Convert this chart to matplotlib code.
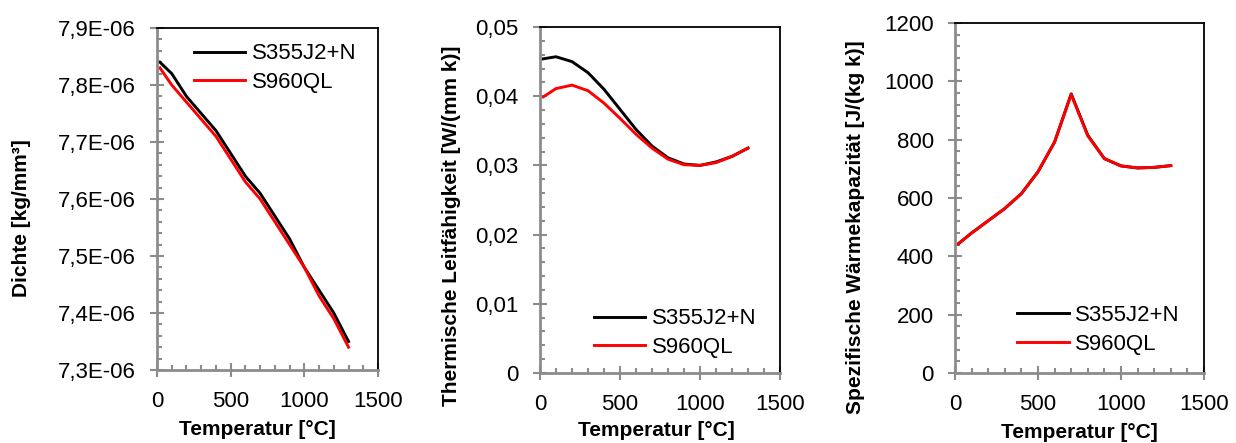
import matplotlib.pyplot as plt
from matplotlib.ticker import MultipleLocator, FuncFormatter

plt.rcParams['font.family'] = ['Liberation Sans', 'DejaVu Sans']

# temperatures [°C]
temp = [20, 100, 200, 300, 400, 500, 600, 700, 800, 900, 1000, 1100, 1200, 1300]

# density [kg/mm³]
dichte_s355 = [7.84e-6, 7.82e-6, 7.78e-6, 7.75e-6, 7.72e-6, 7.68e-6, 7.64e-6,
               7.61e-6, 7.57e-6, 7.53e-6, 7.48e-6, 7.44e-6, 7.40e-6, 7.35e-6]
dichte_s960 = [7.83e-6, 7.80e-6, 7.77e-6, 7.74e-6, 7.71e-6, 7.67e-6, 7.63e-6,
               7.60e-6, 7.56e-6, 7.52e-6, 7.48e-6, 7.43e-6, 7.39e-6, 7.34e-6]

# thermal conductivity [W/(mm k)]
lambda_s355 = [0.0454, 0.0457, 0.0450, 0.0434, 0.0410, 0.0381, 0.0352,
               0.0328, 0.0311, 0.0302, 0.0300, 0.0305, 0.0313, 0.0325]
lambda_s960 = [0.0399, 0.0411, 0.0416, 0.0408, 0.0390, 0.0368, 0.0345,
               0.0325, 0.0309, 0.0301, 0.0300, 0.0304, 0.0313, 0.0325]

# specific heat [J/(kg k)]
cp_s355 = [443, 480, 522, 564, 615, 690, 792, 957, 815, 735, 710, 703, 705, 711]
cp_s960 = [443, 480, 522, 564, 615, 690, 792, 955, 813, 735, 710, 703, 705, 711]

labels = ['S355J2+N', 'S960QL']
gray = '#8c8c8c'

fig = plt.figure(figsize=(12.36, 4.43), dpi=100)
W, H = 1236.0, 443.0

def make_axes(l, r, t, b):
    return fig.add_axes([l / W, 1 - b / H, (r - l) / W, (b - t) / H])

def style(ax):
    for s in ['left', 'bottom']:
        ax.spines[s].set_color(gray)
        ax.spines[s].set_linewidth(2)
    for s in ['top', 'right']:
        ax.spines[s].set_color('black')
        ax.spines[s].set_linewidth(1.3)
    ax.tick_params(which='major', direction='inout', length=9.5, width=1.5,
                   color=gray, labelsize=16, pad=10.5)
    ax.tick_params(which='minor', direction='in', length=3.8, width=1.5, color=gray)
    ax.tick_params(top=False, right=False, which='both')
    ax.set_xlim(0, 1500)
    ax.xaxis.set_major_locator(MultipleLocator(500))
    ax.xaxis.set_minor_locator(MultipleLocator(100))
    ax.set_xlabel('Temperatur [°C]', fontsize=15, fontweight='bold')
    ax.xaxis.label.set_verticalalignment('center')
    ax.yaxis.label.set_verticalalignment('center')

def draw(ax, y1, y2, leg_xy):
    ax.plot(temp, y1, color='black', lw=2.1, label=labels[0])
    ax.plot(temp, y2, color='#ff0000', lw=2.1, label=labels[1])
    ax.legend(loc='upper left', bbox_to_anchor=leg_xy, frameon=False, fontsize=16,
              handlelength=2.3, handletextpad=0.3, labelspacing=0.35,
              borderpad=0, borderaxespad=0)

# Dichte
ax1 = make_axes(157, 378, 28, 370)
style(ax1)
draw(ax1, dichte_s355, dichte_s960, (0.168, 0.955))
ax1.set_ylim(7.3e-6, 7.9e-6)
ax1.yaxis.set_major_locator(MultipleLocator(0.1e-6))
ax1.yaxis.set_minor_locator(MultipleLocator(0.02e-6))
ax1.yaxis.set_major_formatter(FuncFormatter(
    lambda v, p: ('%.1E' % v).replace('.', ',')))
ax1.set_ylabel('Dichte [kg/mm³]', fontsize=15, fontweight='bold')
ax1.yaxis.set_label_coords(-0.611, 0.444)
ax1.xaxis.set_label_coords(0.455, -0.175)

# Waermeleitfaehigkeit
ax2 = make_axes(540, 780, 27, 373)
style(ax2)
draw(ax2, lambda_s355, lambda_s960, (0.226, 0.187))
ax2.set_ylim(0, 0.05)
ax2.yaxis.set_major_locator(MultipleLocator(0.01))
ax2.yaxis.set_minor_locator(MultipleLocator(0.002))
ax2.yaxis.set_major_formatter(FuncFormatter(
    lambda v, p: '0' if abs(v) < 1e-9 else ('%.2f' % v).replace('.', ',')))
ax2.set_ylabel('Thermische Leitfähigkeit [W/(mm k)]', fontsize=15, fontweight='bold')
ax2.yaxis.set_label_coords(-0.367, 0.425)
ax2.xaxis.set_label_coords(0.483, -0.165)

# Waermekapazitaet
ax3 = make_axes(955, 1204, 23, 373)
style(ax3)
draw(ax3, cp_s355, cp_s960, (0.251, 0.194))
ax3.set_ylim(0, 1200)
ax3.yaxis.set_major_locator(MultipleLocator(200))
ax3.yaxis.set_minor_locator(MultipleLocator(40))
ax3.set_ylabel('Spezifische Wärmekapazität [J/(kg k)]', fontsize=15, fontweight='bold')
ax3.yaxis.set_label_coords(-0.398, 0.417)
ax3.xaxis.set_label_coords(0.5, -0.171)

fig.savefig('out.png', dpi=100)
